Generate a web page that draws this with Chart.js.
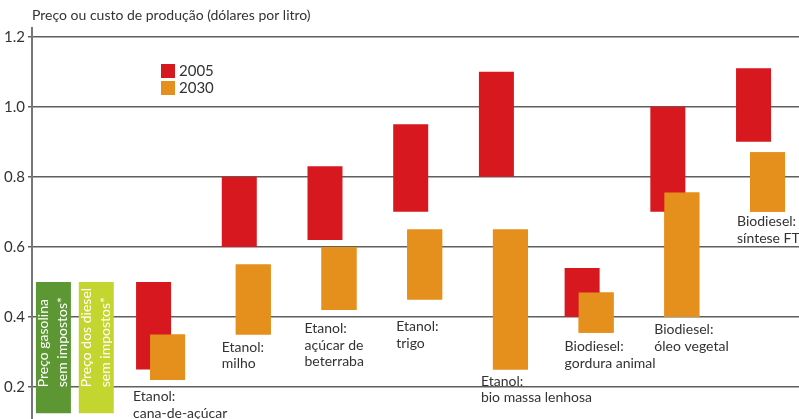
<!DOCTYPE html>
<html>
<head>
<meta charset="utf-8">
<script src="https://cdn.jsdelivr.net/npm/chart.js@4.4.1/dist/chart.umd.min.js"></script>
<style>
  html, body { margin: 0; padding: 0; background: #fff; overflow: hidden; }
  #wrap { position: relative; width: 808px; height: 434px; }
</style>
</head>
<body>
<div id="wrap"><canvas id="c"></canvas></div>
<script>
// Production cost ranges (US$ per litre), low/high ends of each bar
const categories = [
  [],
  ['Etanol:', 'cana-de-açúcar'],
  ['Etanol:', 'milho'],
  ['Etanol:', 'açúcar de', 'beterraba'],
  ['Etanol:', 'trigo'],
  ['Etanol:', 'bio massa lenhosa'],
  ['Biodiesel:', 'gordura animal'],
  ['Biodiesel:', 'óleo vegetal'],
  ['Biodiesel:', 'síntese FT']
];
const cost2005Low  = [null, 0.25, 0.60, 0.62, 0.70, 0.80, 0.40,  0.70,  0.90];
const cost2005High = [null, 0.50, 0.80, 0.83, 0.95, 1.10, 0.54,  1.00,  1.11];
const cost2030Low  = [null, 0.22, 0.35, 0.42, 0.45, 0.25, 0.355, 0.40,  0.70];
const cost2030High = [null, 0.35, 0.55, 0.60, 0.65, 0.65, 0.47,  0.755, 0.87];
// Reference fuel prices before tax
const gasolinePrice = [0.125, 0.50];
const dieselPrice   = [0.125, 0.50];
const gasolineText = ['Preço gasolina', 'sem impostos*'];
const dieselText   = ['Preço dos diesel', 'sem impostos*'];
const seriesNames = ['2005', '2030'];
const yTicks = [0.2, 0.4, 0.6, 0.8, 1.0, 1.2];
const axisTitle = 'Preço ou custo de produção (dólares por litro)';

const RED = '#d7181f';
const ORANGE = '#e58f1c';
const GREEN = '#5c9733';
const LIME = '#c3d62f';
const TEXT = '#333333';
const FONT = 'Lato, "Open Sans", sans-serif';

const ranges = (lo, hi) => lo.map((v, i) => (v === null ? null : [v, hi[i]]));
const single = (r) => categories.map((_, i) => (i === 0 ? r : null));

// label placement below each pair of bars: gap (px) under the lower bar, x shift from the 2005 bar
const labelGap   = [0, 17, 13, 19, 27.5, 12, 14, 13, 10];
const labelShift = [0, -3, 0, -3, 3, 2, 0, 4, 1];

const overlay = {
  id: 'overlay',
  afterDatasetsDraw(chart) {
    // the 2030 bars are painted over the 2005 bars they overlap
    chart.getDatasetMeta(3).controller.draw();
  },
  afterDraw(chart) {
    const ctx = chart.ctx;
    const y = chart.scales.y;
    const area = chart.chartArea;
    ctx.save();

    // axis title
    ctx.fillStyle = TEXT;
    ctx.font = '14px ' + FONT;
    ctx.textAlign = 'left';
    ctx.textBaseline = 'middle';
    ctx.fillText(axisTitle, area.left, 15);

    // category labels
    ctx.font = '14px ' + FONT;
    const m05 = chart.getDatasetMeta(2);
    for (let i = 1; i < categories.length; i++) {
      const el = m05.data[i];
      const left = el.x - el.width / 2 + labelShift[i];
      const lowest = Math.min(cost2005Low[i], cost2030Low[i]);
      const top = y.getPixelForValue(lowest) + labelGap[i];
      categories[i].forEach((line, j) => ctx.fillText(line, left, top + j * 16.5));
    }

    // legend
    const lx = area.left + 129, ly = area.top + 36;
    ctx.font = '15px ' + FONT;
    [RED, ORANGE].forEach((c, j) => {
      ctx.fillStyle = c;
      ctx.fillRect(lx, ly + j * 17, 14, 14);
      ctx.fillStyle = TEXT;
      ctx.fillText(seriesNames[j], lx + 18, ly + j * 17 + 7.5);
    });

    // vertical captions inside the price bars
    ctx.fillStyle = '#ffffff';
    ctx.font = '14px ' + FONT;
    ctx.textBaseline = 'alphabetic';
    [[0, gasolineText], [1, dieselText]].forEach(([d, lines]) => {
      const el = chart.getDatasetMeta(d).data[0];
      const left = el.x - el.width / 2;
      ctx.save();
      ctx.translate(left, el.base - 26);
      ctx.rotate(-Math.PI / 2);
      ctx.fillText(lines[0], 0, 12.5);
      ctx.fillText(lines[1], 0, 31);
      ctx.restore();
    });
    ctx.restore();
  }
};

const groupOpts = { categoryPercentage: 0.3267, barPercentage: 2.5 };
const priceOpts = { categoryPercentage: 1.0, barPercentage: 0.8167 };

new Chart(document.getElementById('c'), {
  type: 'bar',
  data: {
    labels: categories.map((c) => c.join(' ')),
    datasets: [
      { label: gasolineText.join(' '), data: single(gasolinePrice), backgroundColor: GREEN, ...priceOpts },
      { label: dieselText.join(' '), data: single(dieselPrice), backgroundColor: LIME, ...priceOpts },
      { label: seriesNames[0], data: ranges(cost2005Low, cost2005High), backgroundColor: RED, ...groupOpts },
      { label: seriesNames[1], data: ranges(cost2030Low, cost2030High), backgroundColor: ORANGE, ...groupOpts }
    ]
  },
  options: {
    responsive: true,
    maintainAspectRatio: false,
    animation: false,
    devicePixelRatio: 1,
    datasets: { bar: { skipNull: true, borderWidth: 0 } },
    layout: { padding: { left: 0, top: 28, right: 4.6, bottom: 10.5 } },
    plugins: { legend: { display: false }, tooltip: { enabled: false } },
    scales: {
      x: { display: false, stacked: false },
      y: {
        stacked: false,
        min: 0.1,
        max: 1.225,
        afterBuildTicks(scale) { scale.ticks = yTicks.map((v) => ({ value: v })); },
        afterFit(scale) { scale.width = 32; },
        ticks: {
          color: TEXT,
          padding: 3,
          font: { family: FONT, size: 15 },
          callback: (v) => Number(v).toFixed(1)
        },
        grid: { color: '#5f5f5f', lineWidth: 1.5, tickLength: 4, drawTicks: true },
        border: { display: true, color: '#777777', width: 2 }
      }
    }
  },
  plugins: [overlay]
});
</script>
</body>
</html>
